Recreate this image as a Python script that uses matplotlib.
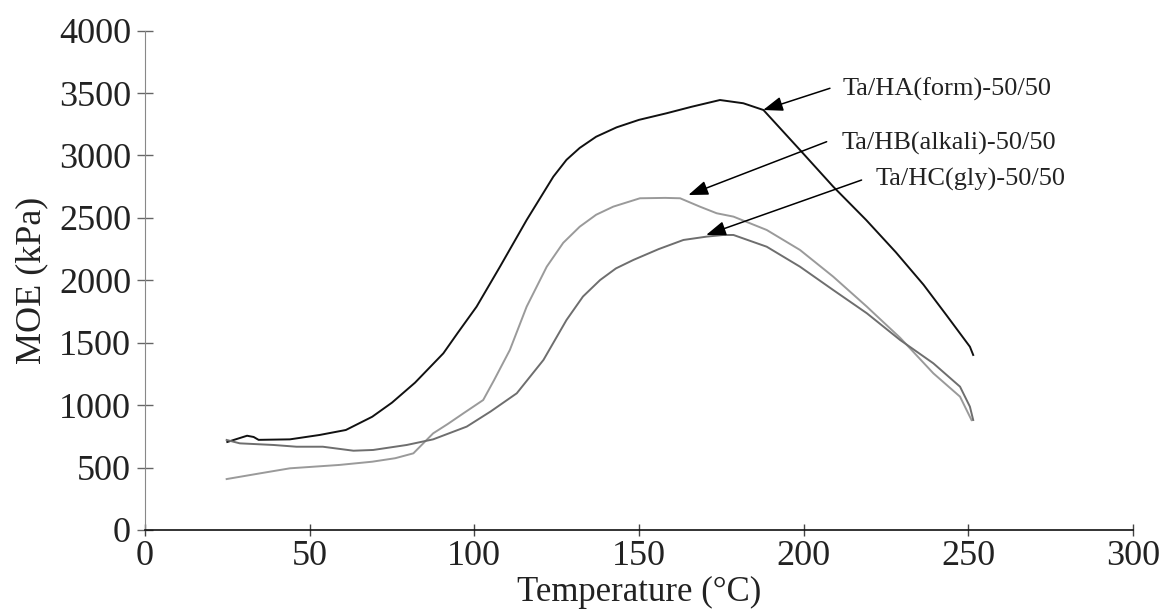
import matplotlib
matplotlib.use("Agg")
import matplotlib.pyplot as plt

temp_ha = [25, 31, 33, 34.5, 44, 53, 61, 69, 75, 82, 90.6, 95, 100.7, 107.8, 115.9, 124, 128,
           132, 137, 143.2, 150, 158.4, 166, 174.6, 181.7, 187.8, 198.9, 209, 219, 228,
           236.4, 243.4, 250.5, 251.5]
moe_ha = [705, 755, 745, 722, 726, 761, 801, 907, 1020, 1180, 1415, 1580, 1789, 2109, 2483,
          2830, 2965, 3060, 3150, 3225, 3285, 3338, 3390, 3444, 3418, 3364, 3044, 2750,
          2483, 2225, 1965, 1720, 1468, 1402]

temp_hb = [24.8, 35, 44, 59, 69, 76, 81.5, 87.5, 92, 97, 102.7, 106, 110.8, 115.9, 122, 127,
           132, 137, 142.2, 150.3, 158, 162.5, 168.5, 173.6, 178.7, 188.8, 198.9, 209, 219.2,
           223.2, 229.3, 239.4, 247.5, 251]
moe_hb = [408, 454, 494, 521, 547, 575, 614, 774, 850, 940, 1041, 1200, 1442, 1789, 2109,
          2300, 2429, 2525, 2590, 2657, 2660, 2657, 2590, 2537, 2510, 2403, 2243, 2029,
          1789, 1690, 1540, 1255, 1068, 880]

temp_hc = [24.8, 28.8, 39, 46, 54, 63.3, 69.3, 79.5, 87.5, 97.7, 105, 112.9, 121, 128, 133,
           138.2, 143, 148.3, 156, 163.5, 170.6, 175.6, 178.7, 188.8, 198.9, 209, 219.2,
           229.3, 239.4, 247.5, 250.5, 251.5]
moe_hc = [721, 694, 681, 667, 667, 635, 641, 681, 726, 828, 950, 1095, 1362, 1682, 1870,
          2002, 2095, 2163, 2250, 2323, 2350, 2363, 2363, 2269, 2109, 1922, 1736,
          1522, 1335, 1148, 988, 881]

labels = ["Ta/HA(form)-50/50", "Ta/HB(alkali)-50/50", "Ta/HC(gly)-50/50"]
label_pos = [(211.7, 3530), (211.6, 3100), (221.7, 2810)]
arrow_start = [(208.0, 3538), (207.0, 3110), (217.6, 2803)]
arrow_tip = [(187.7, 3364), (165.0, 2683), (170.4, 2363)]

xticks = [0, 50, 100, 150, 200, 250, 300]
yticks = [0, 500, 1000, 1500, 2000, 2500, 3000, 3500, 4000]

plt.rcParams["font.family"] = ["Liberation Serif", "DejaVu Serif"]

fig = plt.figure(figsize=(11.74, 6.12), dpi=100)
ax = fig.add_axes([0.1235, 0.134, 0.8415, 0.816])

ax.plot(temp_ha, moe_ha, color="#111111", lw=1.4)
ax.plot(temp_hb, moe_hb, color="#9a9a9a", lw=1.4)
ax.plot(temp_hc, moe_hc, color="#6e6e6e", lw=1.4)

for lab, pos, st, tip in zip(labels, label_pos, arrow_start, arrow_tip):
    ax.text(pos[0], pos[1], lab, fontsize=19, va="center", ha="left", color="#222222")
    ax.annotate("", xy=tip, xytext=st,
                arrowprops=dict(arrowstyle="-|>,head_length=0.6,head_width=0.22",
                                color="black", lw=1.1, mutation_scale=20,
                                shrinkA=0, shrinkB=0))

ax.set_xlim(0, 300)
ax.set_ylim(0, 4000)
ax.set_xticks(xticks)
ax.set_yticks(yticks)
ax.tick_params(axis="x", direction="inout", length=9, width=1, color="#444444",
               labelsize=26, pad=3, labelcolor="#222222")
ax.tick_params(axis="y", direction="inout", length=12, width=1, color="#666666",
               labelsize=26, pad=4, labelcolor="#222222")
ax.set_xlabel("Temperature (°C)", fontsize=25, labelpad=2, color="#222222")
ax.set_ylabel("MOE (kPa)", fontsize=26, labelpad=8, color="#222222")

ax.spines["top"].set_visible(False)
ax.spines["right"].set_visible(False)
ax.spines["left"].set_color("#888888")
ax.spines["bottom"].set_color("#111111")
ax.spines["bottom"].set_linewidth(1.2)

fig.savefig("out.png", dpi=100)
